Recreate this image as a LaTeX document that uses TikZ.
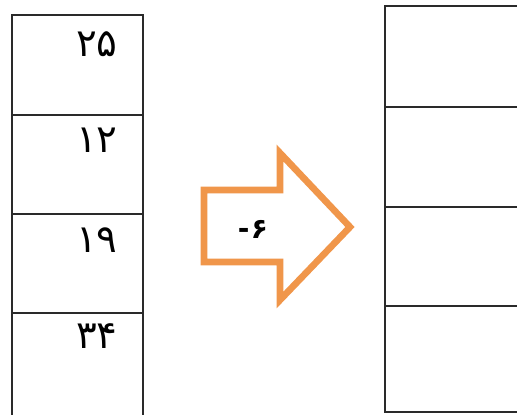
\documentclass[tikz,border=0pt]{standalone}
\usepackage{fontspec}
\newfontfamily\arabicfont[Script=Arabic]{DejaVu Sans}
\TeXXeTstate=1
\definecolor{arroworange}{HTML}{F0964A}
\definecolor{linegray}{HTML}{2A2A2A}
\begin{document}
\begin{tikzpicture}[x=0.75pt,y=-0.75pt,
  cell/.style={draw=linegray,line width=1.6pt,rectangle,inner sep=0pt},
  numtext/.style={anchor=base east,inner sep=0pt,font=\arabicfont\fontsize{29}{32}\selectfont,text=black},
  oparrow/.style={draw=arroworange,line width=5pt,line join=miter,fill=white}]
\useasboundingbox (0,0) rectangle (517,414);
\clip (0,0) rectangle (517,414);
% left column
\node[cell,minimum width=98.25pt,minimum height=75pt] (l1) at (77.5,65) {};
\node[cell,minimum width=98.25pt,minimum height=74.25pt] (l2) at (77.5,164.5) {};
\node[cell,minimum width=98.25pt,minimum height=74.25pt] (l3) at (77.5,263.5) {};
\node[cell,minimum width=98.25pt,minimum height=80pt] (l4) at (77.5,366.5) {};
\node[numtext] (t1) at (118,56) {۲۵};
\node[numtext] (t2) at (118,152) {۱۲};
\node[numtext] (t3) at (118,252) {۱۹};
\node[numtext] (t4) at (118,348) {۳۴};
% right column
\node[cell,minimum width=110pt,minimum height=75.75pt] (r1) at (458,56.5) {};
\node[cell,minimum width=110pt,minimum height=75pt] (r2) at (458,157) {};
\node[cell,minimum width=110pt,minimum height=74.25pt] (r3) at (458,256.5) {};
\node[cell,minimum width=110pt,minimum height=79.5pt] (r4) at (458,359) {};
% arrow
\draw[oparrow] (204,190) -- (280,190) -- (280,153) -- (350,227) -- (280,300) -- (280,262) -- (204,262) -- cycle;
\node[inner sep=0pt,font=\arabicfont\bfseries\fontsize{21}{24}\selectfont] (lbl) at (253,229) {\hbox{-}\kern1pt\hbox{۶}};
\end{tikzpicture}
\end{document}
